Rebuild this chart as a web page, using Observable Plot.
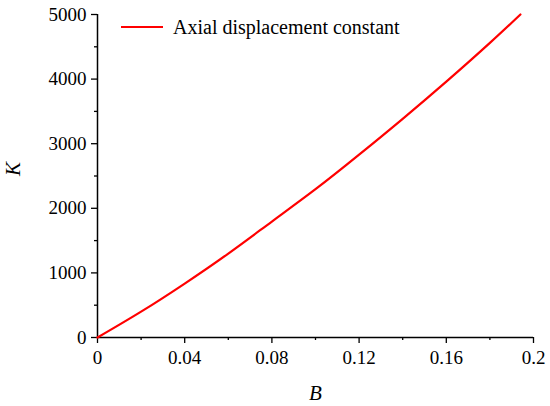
<!DOCTYPE html>
<html><head><meta charset="utf-8">
<script src="https://cdn.jsdelivr.net/npm/d3@7"></script>
<script src="https://cdn.jsdelivr.net/npm/@observablehq/plot@0.6"></script>
<style>
html,body{margin:0;padding:0;background:#fff;}
#chart{position:relative;width:550px;height:406px;font-family:'Liberation Serif','Times New Roman',Times,'DejaVu Serif','Noto Serif',serif;}
#chart svg, #chart svg text{font-family:'Liberation Serif','Times New Roman',Times,'DejaVu Serif','Noto Serif',serif !important;}
.legend{position:absolute;left:121px;top:15px;display:flex;align-items:center;font-size:20px;line-height:24px;color:#000;}
.swatch{width:42px;height:2.5px;background:#ff0000;margin-right:10px;}
</style></head><body><div id="chart"></div>
<script>
const B = [0, 0.02, 0.04, 0.06, 0.08, 0.10, 0.12, 0.14, 0.16, 0.18, 0.194];
const K = [0, 400, 835, 1300, 1795, 2295, 2830, 3385, 3960, 4560, 5000];
const xTicks = [0, 0.04, 0.08, 0.12, 0.16, 0.2];
const xTickLabels = ["0", "0.04", "0.08", "0.12", "0.16", "0.2"];
const xMinorTicks = [0.02, 0.06, 0.1, 0.14, 0.18];
const yTicks = [0, 1000, 2000, 3000, 4000, 5000];
const yMinorTicks = [500, 1500, 2500, 3500, 4500];
const seriesName = "Axial displacement constant";
const xLabel = "B";
const yLabel = "K";

const data = B.map((b, i) => ({B: b, K: K[i]}));
const font = "'Liberation Serif','Times New Roman',Times,'DejaVu Serif','Noto Serif',serif";

const plot = Plot.plot({
  width: 550, height: 406,
  marginLeft: 97, marginRight: 17, marginTop: 14, marginBottom: 69,
  style: {fontFamily: font, fontSize: "19px", color: "#000", background: "#fff", overflow: "visible"},
  x: {domain: [0, 0.2]},
  y: {domain: [0, 5000]},
  marks: [
    Plot.axisX({ticks: xMinorTicks, tickSize: 3, tickFormat: () => "", label: null, strokeWidth: 1.3}),
    Plot.axisX({ticks: xTicks, tickSize: 6, tickPadding: 7, tickFormat: d => xTickLabels[xTicks.indexOf(d)], label: null, strokeWidth: 1.3, fontSize: 19}),
    Plot.axisY({ticks: yMinorTicks, tickSize: 3, tickFormat: () => "", label: null, strokeWidth: 1.3}),
    Plot.axisY({ticks: yTicks, tickSize: 6, tickPadding: 5, tickFormat: d => String(d), label: null, strokeWidth: 1.3, fontSize: 19}),
    Plot.ruleX([0], {stroke: "#000", strokeWidth: 1.5}),
    Plot.ruleY([0], {stroke: "#000", strokeWidth: 1.5}),
    Plot.line(data, {x: "B", y: "K", stroke: "#ff0000", strokeWidth: 2.2, curve: "natural"}),
    Plot.text([yLabel], {text: d => d, frameAnchor: "left", dx: -84, rotate: -90, fontStyle: "italic", fontSize: 21}),
    Plot.text([xLabel], {text: d => d, frameAnchor: "bottom", dy: 62, fontStyle: "italic", fontSize: 21})
  ]
});

const chart = document.getElementById("chart");
chart.appendChild(plot);
const legend = document.createElement("div");
legend.className = "legend";
const sw = document.createElement("span");
sw.className = "swatch";
const lt = document.createElement("span");
lt.textContent = seriesName;
legend.appendChild(sw);
legend.appendChild(lt);
chart.appendChild(legend);
</script>
</body></html>
